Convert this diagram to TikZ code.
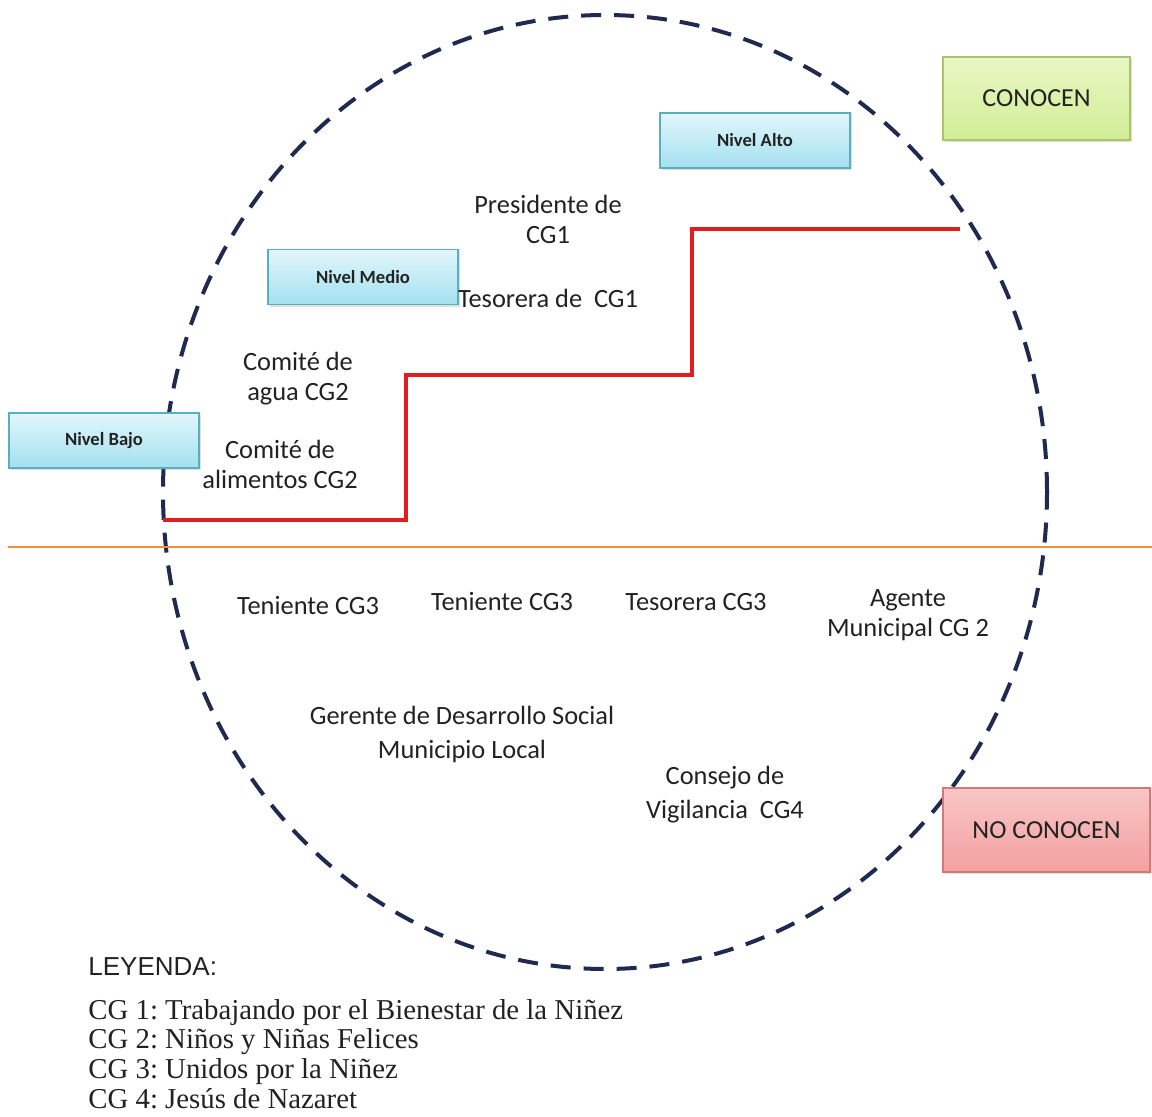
\documentclass[tikz,border=0pt]{standalone}
\usepackage{fontspec}
\setmainfont{Carlito}
\newfontfamily\legfont{Liberation Serif}
\newfontfamily\arialfont{Liberation Sans}
\usetikzlibrary{shadows}
\frenchspacing
\definecolor{navy}{HTML}{1F2A50}
\definecolor{redline}{HTML}{E01E1E}
\definecolor{orangeline}{HTML}{F0903A}
\definecolor{nivtop}{HTML}{E2F6FB}
\definecolor{nivbot}{HTML}{A3E0EF}
\definecolor{nivborder}{HTML}{5AAFBF}
\definecolor{greentop}{HTML}{E8F6C4}
\definecolor{greenbot}{HTML}{D2EE96}
\definecolor{greenborder}{HTML}{A9C46A}
\definecolor{pinktop}{HTML}{F9C6C6}
\definecolor{pinkbot}{HTML}{F3A0A0}
\definecolor{pinkborder}{HTML}{D27A7A}
\definecolor{txt}{HTML}{222222}
\begin{document}
\begin{tikzpicture}[x=0.5pt,y=-0.5pt,
  nivel/.style={draw=nivborder, line width=0.8pt, top color=nivtop, bottom color=nivbot,
    minimum width=95pt, minimum height=27.5pt, inner sep=0pt,
    font=\bfseries\fontsize{9.3}{10}\selectfont, text=txt,
    drop shadow={opacity=0.25, shadow xshift=1pt, shadow yshift=-1.2pt}},
  estado/.style={draw, line width=0.8pt, inner sep=0pt,
    font=\fontsize{13}{15}\selectfont, text=txt,
    drop shadow={opacity=0.25, shadow xshift=1.2pt, shadow yshift=-1.2pt}},
  lbl/.style={align=center, font=\fontsize{13.2}{15}\selectfont, text=txt, inner sep=0pt},
  circ/.style={draw=navy, line width=2pt, dash pattern=on 10pt off 6.5pt},
  escalon/.style={draw=redline, line width=1.6pt},
  divisor/.style={draw=orangeline, line width=1.2pt}
]
\useasboundingbox (0,0) rectangle (1152,1117);
\fill[white] (0,0) rectangle (1152,1117);

% dashed ellipse
\draw[circ] (605,492) ellipse [x radius=221pt, y radius=238.5pt];

% orange divider
\coordinate (oL) at (8,547);
\coordinate (oR) at (1152,547);
\draw[divisor] (oL) -- (oR);

% red staircase
\coordinate (s0) at (163,520);
\coordinate (s1) at (406,520);
\coordinate (s2) at (406,375);
\coordinate (s3) at (692,375);
\coordinate (s4) at (692,229);
\coordinate (s5) at (960,229);
\draw[escalon] (s0) -- (s1) -- (s2) -- (s3) -- (s4) -- (s5);

% level boxes
\node[nivel] (alto)  at (755,140.5) {Nivel Alto};
\node[nivel] (medio) at (363,277)   {Nivel Medio};
\node[nivel] (bajo)  at (104,440.5) {Nivel Bajo};

% status boxes
\node[estado, draw=greenborder, top color=greentop, bottom color=greenbot,
      minimum width=93.5pt, minimum height=41.5pt] (conocen) at (1036.5,98.5) {CONOCEN};
\node[estado, draw=pinkborder, top color=pinktop, bottom color=pinkbot,
      minimum width=103.5pt, minimum height=42pt] (noconocen) at (1046.5,830) {NO CONOCEN};

% labels upper part
\node[lbl] (pres) at (548,219) {Presidente de\\CG1};
\node[lbl] (teso1) at (548,298) {Tesorera de\ \ CG1};
\node[lbl] (agua) at (298,379) {Comité de\\agua CG2};
\node[lbl] (alim) at (280,464) {Comité de\\alimentos CG2};

% labels lower part
\node[lbl] (ten1) at (308,606) {Teniente CG3};
\node[lbl] (ten2) at (502,602) {Teniente CG3};
\node[lbl] (teso3) at (696,602) {Tesorera CG3};
\node[lbl] (agente) at (908,615) {Agente\\Municipal CG 2};
\node[lbl, font=\fontsize{13.2}{17}\selectfont] (gerente) at (462,734) {Gerente de Desarrollo Social\\Municipio Local};
\node[lbl, font=\fontsize{13.2}{17}\selectfont] (consejo) at (725,795) {Consejo de\\Vigilancia\ \ CG4};

% legend
\node[anchor=west, inner sep=0pt, font=\arialfont\fontsize{13}{15}\selectfont, text=txt] (ley) at (88,967) {LEYENDA:};
\node[anchor=north west, inner sep=0pt, align=left, font=\legfont\fontsize{14.4}{14.8}\selectfont, text=txt] (legtext) at (88,999)
  {CG 1: Trabajando por el Bienestar de la Niñez\\
   CG 2: Niños y Niñas Felices\\
   CG 3: Unidos por la Niñez\\
   CG 4: Jesús de Nazaret};
\end{tikzpicture}
\end{document}
